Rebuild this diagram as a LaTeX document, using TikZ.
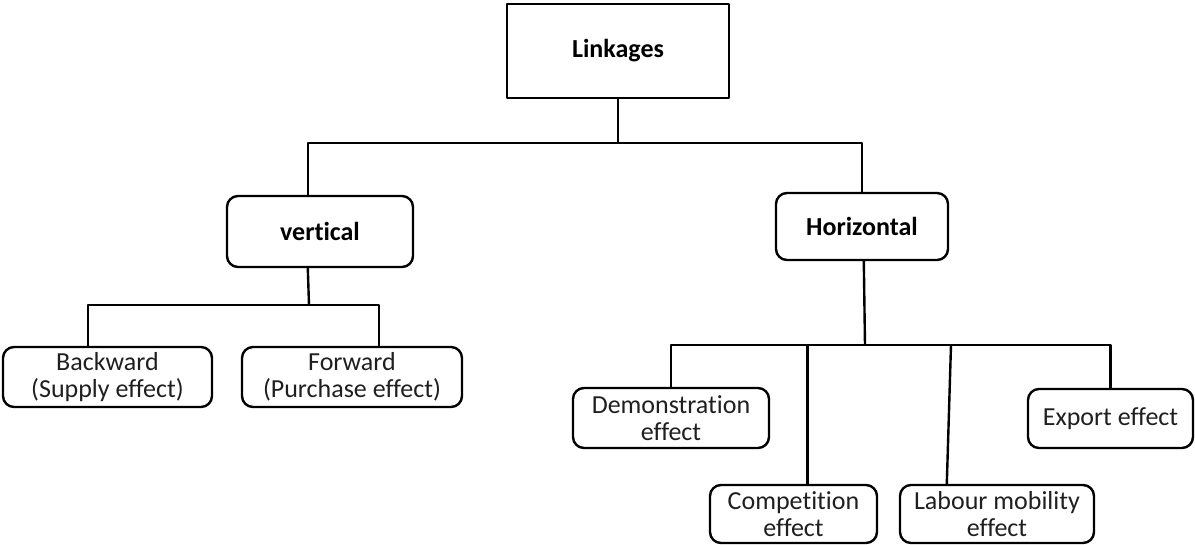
\documentclass[tikz,border=0pt]{standalone}
\usepackage{fontspec}
\setmainfont{Carlito}[Ligatures=NoCommon]
\begin{document}
\begin{tikzpicture}[x=1pt,y=-1pt,
  line width=2.4pt, line join=round,
  box/.style={draw, rectangle, rounded corners=11pt, inner sep=0pt, align=center,
    font=\fontsize{26}{27}\selectfont, text=black!88},
  head/.style={box, font=\fontsize{26}{27}\selectfont\bfseries, text=black},
  root/.style={head, rounded corners=0pt, line width=2.8pt}]
\useasboundingbox (0,0) rectangle (1195,544);

% top level
\node[root, minimum width=222pt, minimum height=94pt] (link) at (618,51) {Linkages};
\node[head, minimum width=186pt, minimum height=71pt] (vert) at (320,231.5) {vertical};
\node[head, minimum width=172pt, minimum height=67pt] (hor) at (862,226.5) {Horizontal};

% vertical linkages
\node[box, minimum width=209pt, minimum height=60pt] (back) at (107.5,377) {Backward\\(Supply effect)};
\node[box, minimum width=220pt, minimum height=60pt] (fwd) at (352,377) {Forward\\(Purchase effect)};

% horizontal linkages
\node[box, minimum width=196pt, minimum height=60pt] (dem) at (671,418) {Demonstration\\effect};
\node[box, minimum width=167pt, minimum height=58pt] (comp) at (793.5,514) {Competition\\effect};
\node[box, minimum width=194pt, minimum height=58pt] (lab) at (997,514) {Labour mobility\\effect};
\node[box, minimum width=165pt, minimum height=59pt] (exp) at (1110.5,418.5) {Export effect};

% bus points
\coordinate (topbus) at (618,143);
\coordinate (vbus) at (309,305);
\coordinate (hbus) at (865,345);

% connectors
\draw (link.south) -- (topbus);
\draw ([xshift=82pt]vert.north west) |- (topbus) -| (hor.north);

\draw ([xshift=82pt]vert.south west) -- (vbus);
\draw ([xshift=86pt]back.north west) |- (vbus) -| ([xshift=138pt]fwd.north west);

\draw ([xshift=89pt]hor.south west) -- (hbus);
\draw (dem.north) |- (hbus) -| (exp.north);
\draw ([xshift=98.5pt]comp.north west) -- ([xshift=98.5pt]comp.north west |- hbus);
\draw ([xshift=48pt]lab.north west) -- (951,345);
\end{tikzpicture}
\end{document}
